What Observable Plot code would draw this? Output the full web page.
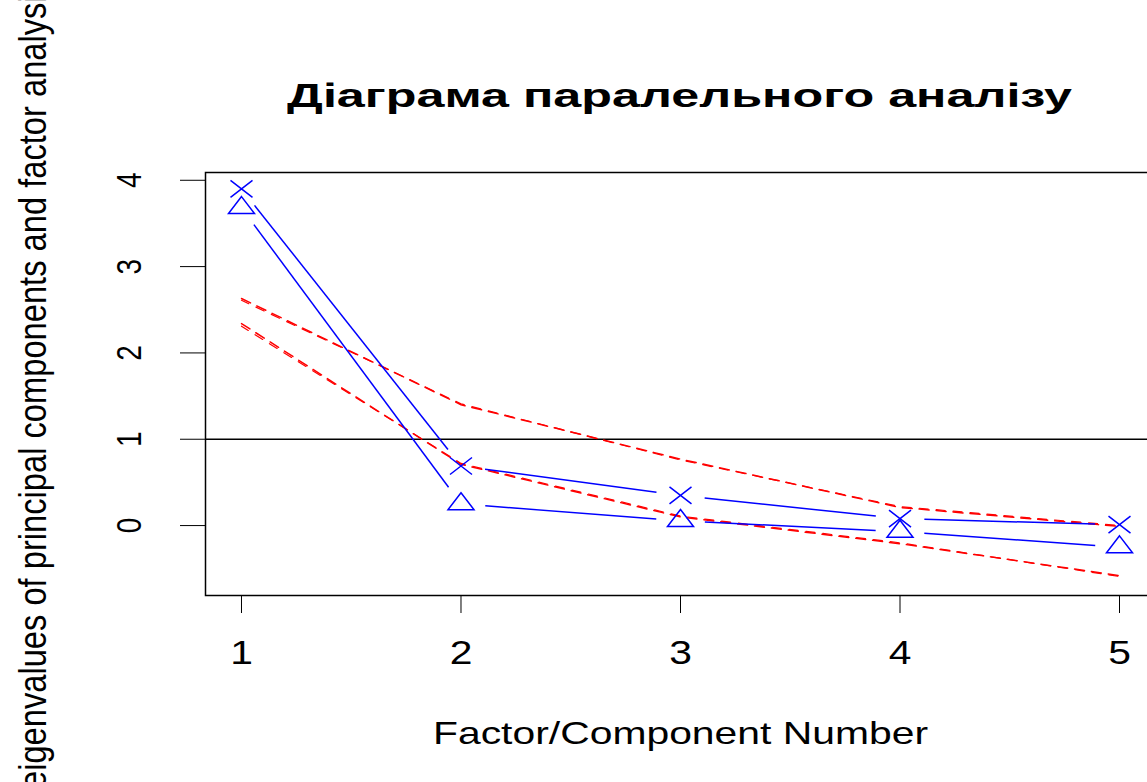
<!DOCTYPE html>
<html>
<head>
<meta charset="utf-8">
<script src="https://cdn.jsdelivr.net/npm/d3@7"></script>
<script src="https://cdn.jsdelivr.net/npm/@observablehq/plot@0.6"></script>
<style>
  html, body { margin: 0; padding: 0; background: #fff; overflow: hidden; width: 1147px; height: 782px; }
  #title { position: relative; height: 130px; }
  #title .t { position: absolute; left: 205px; width: 950px; top: 79px; text-align: center; white-space: nowrap; }
  #title span { display: inline-block; font: bold 33px "Liberation Sans", Arial, sans-serif; line-height: 33px; color: #000; transform-origin: center; }
</style>
</head>
<body>
<div id="title"><div class="t"><span id="tt"></span></div></div>
<div id="chart"></div>
<script>
// ---- data ----
const titleText = "Діаграма паралельного аналізу";
const xLabel = "Factor/Component Number";
const yLabel = "eigenvalues of principal components and factor analysis";
const factorNumbers = [1, 2, 3, 4, 5];
const xTicks = [1, 2, 3, 4, 5];
const yTicks = [0, 1, 2, 3, 4];
const pcActual = [3.90, 0.69, 0.35, 0.08, 0.01];
const faActual = [3.68, 0.25, 0.055, -0.07, -0.25];
const pcSimulated = [2.63, 1.40, 0.77, 0.21, -0.01];
const pcResampled = [2.61, 1.41, 0.76, 0.22, 0.00];
const faSimulated = [2.34, 0.71, 0.10, -0.21, -0.58];
const faResampled = [2.31, 0.72, 0.11, -0.20, -0.59];

// ---- layout ----
const W = 1147, H = 652, mT = 42, mB = 187, mL = 205, mR = -8;
const xDom = [0.836, 5.164], yDom = [-0.81, 4.09];
const STRETCH = 1.25, GAP = 19.5;
const kx = (W - mL - mR) / (xDom[1] - xDom[0]);
const ky = (H - mT - mB) / (yDom[1] - yDom[0]);

const rows = vals => factorNumbers.map((n, i) => ({n, v: vals[i]}));
// type "b" segments: lines with gaps around the points
function gapped(vals) {
  const segs = [];
  for (let i = 0; i < vals.length - 1; i++) {
    const dxp = kx * (factorNumbers[i + 1] - factorNumbers[i]);
    const dyp = -ky * (vals[i + 1] - vals[i]);
    const ox = dxp / STRETCH, L = Math.hypot(ox, dyp);
    const gx = ox / L * GAP * STRETCH, gy = dyp / L * GAP;
    const gxd = gx / kx, gyd = -gy / ky;
    segs.push({x1: factorNumbers[i] + gxd, y1: vals[i] + gyd, x2: factorNumbers[i + 1] - gxd, y2: vals[i + 1] - gyd});
  }
  return segs;
}

const crossSymbol = {
  draw(ctx, size) {
    const r = Math.sqrt(size / Math.PI), w = r * 1.1, h = r * 0.85;
    ctx.moveTo(-w, -h); ctx.lineTo(w, h);
    ctx.moveTo(-w, h); ctx.lineTo(w, -h);
  }
};
const triSymbol = {
  draw(ctx, size) {
    const r = Math.sqrt(size / Math.PI);
    ctx.moveTo(0, -1.13 * r);
    ctx.lineTo(1.3 * r, 0.57 * r);
    ctx.lineTo(-1.3 * r, 0.57 * r);
    ctx.closePath();
  }
};

const red = "#ff0000", blue = "#0000ff";
const chart = Plot.plot({
  width: W, height: H,
  marginTop: mT, marginBottom: mB, marginLeft: mL, marginRight: mR,
  style: {overflow: "visible", fontFamily: "'Liberation Sans', Arial, sans-serif", background: "white", color: "black"},
  x: {domain: xDom, ticks: xTicks, tickSize: 18, tickFormat: () => "", label: null},
  y: {domain: yDom, ticks: yTicks, tickSize: 25, tickFormat: () => "", label: null},
  marks: [
    Plot.frame({stroke: "black", strokeWidth: 1.5}),
    Plot.ruleY([1], {stroke: "black", strokeWidth: 1.3}),
    Plot.line(rows(pcSimulated), {x: "n", y: "v", stroke: red, strokeWidth: 1.5, strokeDasharray: "10,7"}),
    Plot.line(rows(pcResampled), {x: "n", y: "v", stroke: red, strokeWidth: 1.2, strokeDasharray: "9,8", strokeDashoffset: 1}),
    Plot.line(rows(faSimulated), {x: "n", y: "v", stroke: red, strokeWidth: 1.5, strokeDasharray: "10,7"}),
    Plot.line(rows(faResampled), {x: "n", y: "v", stroke: red, strokeWidth: 1.2, strokeDasharray: "9,8", strokeDashoffset: 1}),
    Plot.link(gapped(pcActual), {x1: "x1", y1: "y1", x2: "x2", y2: "y2", stroke: blue, strokeWidth: 1.5}),
    Plot.link(gapped(faActual), {x1: "x1", y1: "y1", x2: "x2", y2: "y2", stroke: blue, strokeWidth: 1.5}),
    Plot.dot(rows(pcActual), {x: "n", y: "v", r: 10, symbol: crossSymbol, fill: "none", stroke: blue, strokeWidth: 1.5}),
    Plot.dot(rows(faActual), {x: "n", y: "v", r: 10, symbol: triSymbol, fill: "none", stroke: blue, strokeWidth: 1.5}),
    Plot.text(xTicks, {x: d => d, text: d => String(d), frameAnchor: "bottom", lineAnchor: "top", dy: 44, fontSize: 34, fill: "black", ariaLabel: () => "x-tick-labels"}),
    Plot.text(yTicks, {y: d => d, text: d => String(d), frameAnchor: "left", textAnchor: "middle", lineAnchor: "bottom", rotate: -90, dx: -65, fontSize: 35, fill: "black", ariaLabel: () => "y-tick-labels"}),
    Plot.text([xLabel], {text: d => d, frameAnchor: "bottom", lineAnchor: "bottom", dy: 148, fontSize: 32, fill: "black", ariaLabel: () => "x-axis-label"}),
    Plot.text([yLabel], {text: d => d, frameAnchor: "left", textAnchor: "middle", lineAnchor: "bottom", rotate: -90, dx: -160, fontSize: 38, fill: "black", ariaLabel: () => "y-axis-label"})
  ]
});
document.getElementById("chart").appendChild(chart);

function adjust(label, fn) {
  d3.select(chart).selectAll(`text[aria-label="${label}"], g[aria-label="${label}"] text`).each(function () {
    const L = this.getComputedTextLength();
    this.setAttribute("textLength", fn(L));
    this.setAttribute("lengthAdjust", "spacingAndGlyphs");
  });
}
adjust("x-tick-labels", L => L * 1.2);
adjust("y-tick-labels", L => L * 0.8);
adjust("x-axis-label", () => 495);
adjust("y-axis-label", () => 810);

const tt = document.getElementById("tt");
tt.textContent = titleText;
const tw = tt.getBoundingClientRect().width;
tt.style.transform = `scaleX(${785 / tw})`;
</script>
</body>
</html>
